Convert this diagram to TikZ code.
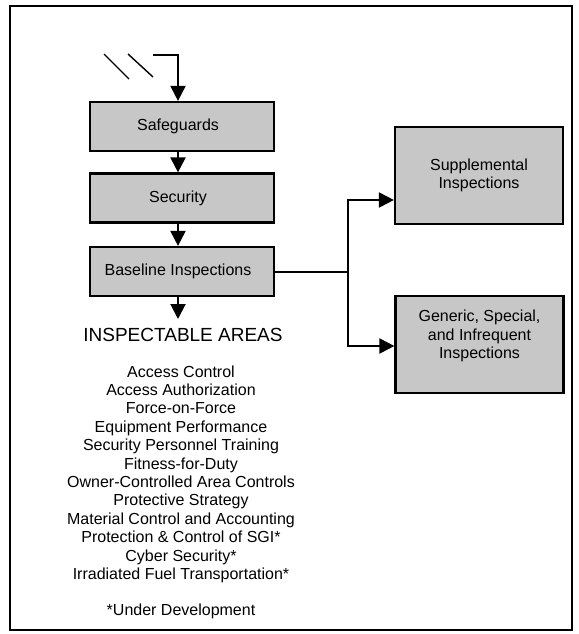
\documentclass[tikz,border=0pt]{standalone}
\usepackage{fontspec}
\setmainfont{Liberation Sans}
\usetikzlibrary{arrows.meta}
\begin{document}
\begin{tikzpicture}[x=1pt,y=-1pt,
  box/.style={draw=black, line width=2.2pt, fill=black!22, minimum width=184pt, minimum height=49pt, inner sep=0pt, font=\fontsize{16}{18.4}\selectfont, align=center},
  rbox/.style={box, minimum width=168pt, minimum height=97pt},
  conn/.style={line width=2pt, line join=miter},
  arr/.style={conn, -{Triangle[length=15pt,width=15pt]}},
  txt/.style={font=\fontsize{16}{18.4}\selectfont, align=center, inner sep=0pt}
]
\useasboundingbox (0,0) rectangle (578,634);
\draw[line width=1.5pt] (10,6) rectangle (572,630);

% left column boxes
\node[box] (sg)   at (182,126.5) {\hspace{-8pt}Safeguards};
\node[box] (sec)  at (182,198)   {\hspace{-8pt}Security};
\node[box] (base) at (182,271.5) {\hspace{-8pt}Baseline Inspections};

% right boxes
\node[rbox] (supp) at (479,175.5) {Supplemental\\Inspections};
\node[rbox] (gen)  at (479.5,344.5) {};
\node[txt] (gentxt) at (479.5,336) {Generic, Special,\\and Infrequent\\Inspections};

% input marks and arrow
\draw[line width=1.4pt] (104,54) -- (129,79);
\draw[line width=1.4pt] (128,54) -- (153,77);
\coordinate (in0) at (153,55);
\coordinate (in1) at (178,55);
\draw[arr] (in0) -- (in1) -- (in1 |- sg.north);
\draw[arr] (in1 |- sg.south) -- (in1 |- sec.north);
\draw[arr] (in1 |- sec.south) -- (in1 |- base.north);

% inspectable areas
\node[inner sep=0pt, font=\fontsize{19}{22}\selectfont] (ia) at (183,335) {INSPECTABLE AREAS};
\coordinate (iatop) at (178,319);
\draw[arr] (in1 |- base.south) -- (iatop);

\node[txt] (list) at (181,474.2) {Access Control\\Access Authorization\\Force-on-Force\\Equipment Performance\\Security Personnel Training\\Fitness-for-Duty\\Owner-Controlled Area Controls\\Protective Strategy\\Material Control and Accounting\\Protection \& Control of SGI*\\Cyber Security*\\Irradiated Fuel Transportation*};
\node[txt] (note) at (181,611) {*Under Development};

% branch to right boxes
\coordinate (jn) at (348,271.5);
\coordinate (ja) at (348,200);
\coordinate (jb) at (348,346);
\draw[conn] (base.east) -- (jn);
\draw[arr] (jn) -- (ja) -- (supp.west |- ja);
\draw[arr] (jn) -- (jb) -- (gen.west |- jb);
\end{tikzpicture}
\end{document}
